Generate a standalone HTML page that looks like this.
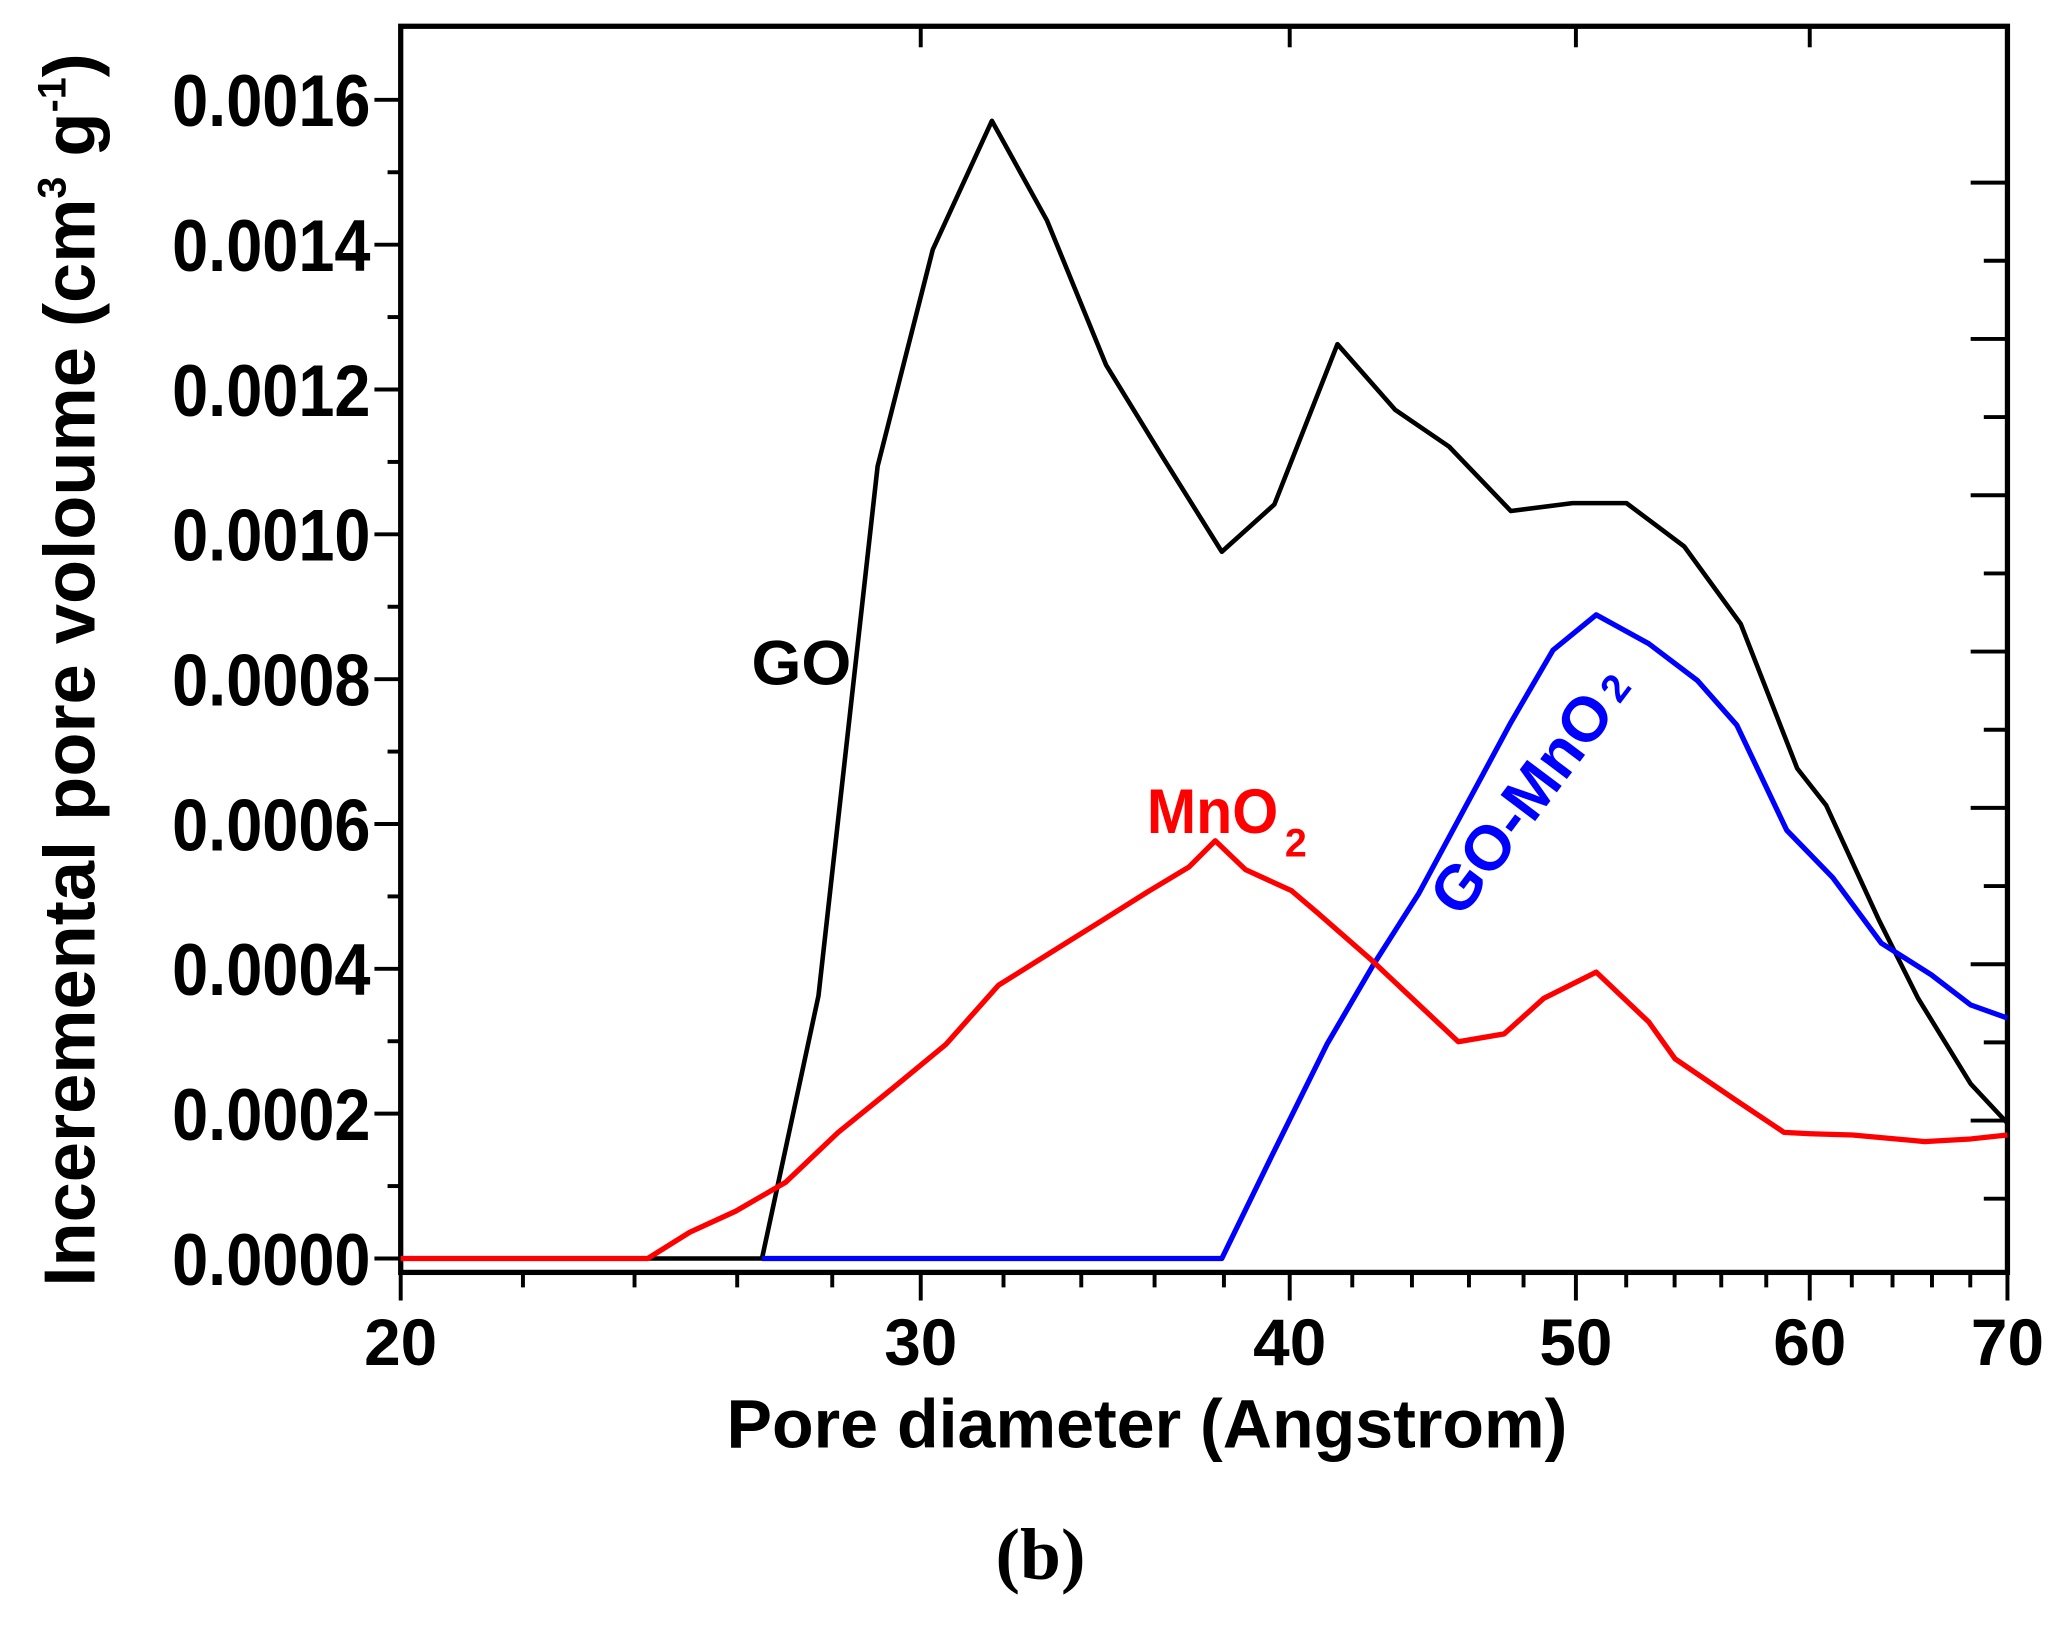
<!DOCTYPE html>
<html><head><meta charset="utf-8"><style>html,body{margin:0;padding:0;background:#fff}svg{display:block}</style></head>
<body>
<svg width="2060" height="1625" viewBox="0 0 1568 1237" preserveAspectRatio="none" xmlns="http://www.w3.org/2000/svg" font-family="'Liberation Sans', Arial, sans-serif" font-weight="bold">
<rect width="1568" height="1237" fill="#fff"/>
<g id="ticks" stroke="#000" stroke-width="3"></g>
<rect x="305" y="20" width="1223" height="948.6" fill="none" stroke="#000" stroke-width="4"/>
<polyline fill="none" stroke="#000" stroke-width="3.5" stroke-linejoin="round" points="305,958 580,958 623,758 668,355 710,190 755,92 797,168 842,278 885,348 930,420 970,384 1018,262 1062,312 1103,340 1150,389 1197,383 1238,383 1282,416 1325,475 1368,585 1390,613 1430,700 1460,760 1500,825 1528,855"/>
<polyline fill="none" stroke="#0000ff" stroke-width="4" stroke-linejoin="round" points="580,958 930,958 968,880 1010,795 1045,735 1080,680 1115,615 1150,550 1182,495 1215,468 1255,490 1292,518 1322,552 1360,632 1395,668 1432,718 1470,742 1500,765 1528,775"/>
<polyline fill="none" stroke="#ff0000" stroke-width="4" stroke-linejoin="round" points="305,958 493,958 525,938 560,922 598,900 638,862 680,828 720,795 760,750 800,725 840,700 875,678 905,660 925,640 948,662 983,678 1003,695 1043,730 1110,793 1145,787 1175,760 1215,740 1255,778 1275,806 1322,838 1358,862 1378,863 1410,864 1465,869 1500,867 1528,864"/>
<g font-size="56" text-anchor="end" id="ylab"></g>
<g font-size="50" text-anchor="middle" id="xlab"></g>
<text x="873" y="1102" font-size="52" text-anchor="middle" textLength="640" lengthAdjust="spacingAndGlyphs">Pore diameter (Angstrom)</text>
<text transform="translate(72,510) rotate(-90)" font-size="55" text-anchor="middle">Inceremental pore voloume (cm<tspan dy="-22" font-size="30">3</tspan><tspan dy="22"> g</tspan><tspan dy="-22" font-size="30">-1</tspan><tspan dy="22">)</tspan></text>
<text x="572" y="521" font-size="48" textLength="76" lengthAdjust="spacingAndGlyphs">GO</text>
<text x="873" y="634" font-size="48" fill="#ff0000" textLength="100" lengthAdjust="spacingAndGlyphs">MnO</text>
<text x="978" y="652" font-size="30" fill="#ff0000">2</text>
<text transform="translate(1112,700) rotate(-53)" font-size="48" fill="#0000ff">GO-MnO<tspan dy="-2" dx="6" font-size="30">2</tspan></text>
<text x="792" y="1202" font-size="56" text-anchor="middle" font-family="'Liberation Serif', serif">(b)</text>
</svg>
<script>
var ns="http://www.w3.org/2000/svg",t=document.getElementById('ticks');
function L(a,b,c,d){var l=document.createElementNS(ns,'line');l.setAttribute('x1',a);l.setAttribute('y1',b);l.setAttribute('x2',c);l.setAttribute('y2',d);t.appendChild(l);}
function X(d){return 305+(Math.log(d)-Math.log(20))/(Math.log(70)-Math.log(20))*1223;}
var yl=document.getElementById('ylab'),xl=document.getElementById('xlab');
for(var i=0;i<=16;i++){var y=958-i*55.125;var maj=i%2==0;L(305,y,maj?285:295,y);
 if(maj){var tx=document.createElementNS(ns,'text');tx.setAttribute('x',282);tx.setAttribute('y',y+20);tx.setAttribute('textLength',151);tx.setAttribute('lengthAdjust','spacingAndGlyphs');tx.textContent=(i/2*0.0002).toFixed(4);yl.appendChild(tx);}}
for(var y=139;y<968;y+=59.5){var k=Math.round((y-139)/59.5);L(1528,y,k%2==0?1500:1510,y);}
for(var d=20;d<=70;d+=2){var x=X(d);var maj=d%10==0;L(x,968.6,x,maj?990:980);
 if(maj){L(x,20,x,36);var tx=document.createElementNS(ns,'text');tx.setAttribute('x',x);tx.setAttribute('y',1039);tx.textContent=d;xl.appendChild(tx);}}
</script>
</body></html>
